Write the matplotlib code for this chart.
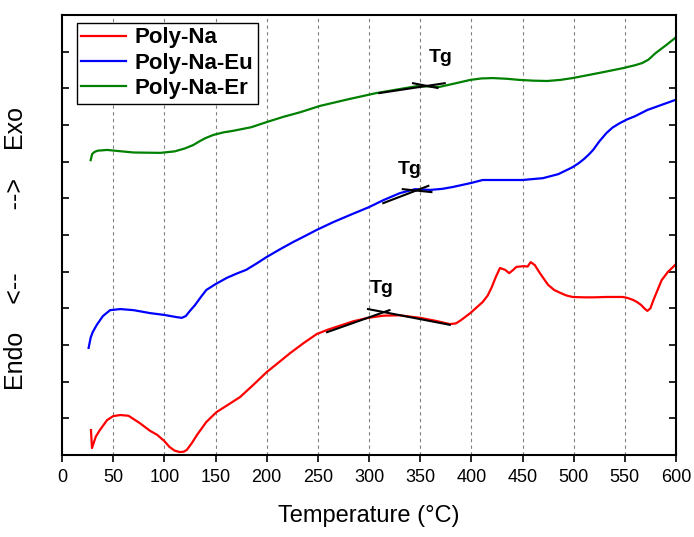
import matplotlib
matplotlib.use("Agg")
import matplotlib.pyplot as plt

plt.rcParams["font.family"] = ["Liberation Sans", "DejaVu Sans"]

# --- DSC curves (offset, arbitrary units) ---
na_x = [28.3, 29.3, 33, 37, 44, 50, 57, 65, 76, 86, 93, 100, 105, 110, 115, 119, 122, 127,
        132, 141, 151, 160, 174, 188, 200, 212, 223, 236, 249, 260, 272, 285, 299, 314,
        330, 350, 365, 379, 385, 390, 399, 411, 416, 420, 424, 428, 433, 437, 441, 444,
        451, 455, 458, 462, 467, 471, 475, 481, 487, 493, 499, 510, 520, 532, 540, 548,
        553, 558, 562, 566, 569, 572, 575, 578, 582, 586, 592, 599]
na_y = [0.68, 0.19, 0.50, 0.68, 0.95, 1.06, 1.09, 1.07, 0.87, 0.66, 0.55, 0.38, 0.22,
        0.12, 0.08, 0.09, 0.14, 0.33, 0.55, 0.90, 1.17, 1.33, 1.58, 1.94, 2.26, 2.53,
        2.78, 3.05, 3.30, 3.42, 3.53, 3.65, 3.74, 3.80, 3.81, 3.74, 3.66, 3.57, 3.59,
        3.68, 3.87, 4.17, 4.35, 4.58, 4.86, 5.10, 5.05, 4.96, 5.05, 5.13, 5.15, 5.14,
        5.26, 5.18, 4.96, 4.80, 4.64, 4.50, 4.42, 4.35, 4.31, 4.30, 4.30, 4.31, 4.31,
        4.31, 4.28, 4.23, 4.17, 4.09, 4.00, 3.93, 4.00, 4.23, 4.50, 4.77, 4.99, 5.18]

eu_x = [26, 28, 30, 34, 40, 47, 57, 70, 86, 100, 112, 117, 121, 125, 130, 136, 141, 150,
        161, 170, 180, 190, 200, 213, 226, 238, 249, 265, 281, 300, 314, 330, 345, 360,
        372, 382, 400, 411, 430, 450, 470, 485, 499, 505, 510, 515, 519, 525, 532, 538,
        545, 552, 560, 572, 585, 599]
eu_y = [2.92, 3.20, 3.35, 3.55, 3.79, 3.95, 3.98, 3.95, 3.87, 3.82, 3.76, 3.74, 3.79,
        3.93, 4.09, 4.32, 4.50, 4.66, 4.83, 4.94, 5.05, 5.22, 5.40, 5.61, 5.81, 5.98,
        6.14, 6.35, 6.54, 6.76, 6.95, 7.14, 7.25, 7.23, 7.26, 7.31, 7.42, 7.50, 7.50,
        7.50, 7.55, 7.66, 7.85, 7.96, 8.07, 8.20, 8.32, 8.55, 8.78, 8.93, 9.05, 9.15,
        9.24, 9.41, 9.54, 9.68]

er_x = [28, 29.5, 32, 35, 44, 55, 70, 96, 110, 115, 120, 128, 134, 140, 148, 158, 167,
        185, 200, 216, 233, 252, 281, 307, 330, 347, 360, 369, 385, 399, 410, 421, 435,
        447, 460, 474, 487, 499, 525, 548, 560, 567, 573, 580, 590, 599]
er_y = [8.04, 8.21, 8.27, 8.30, 8.32, 8.29, 8.25, 8.24, 8.28, 8.32, 8.36, 8.45, 8.55,
        8.64, 8.73, 8.80, 8.84, 8.94, 9.08, 9.22, 9.35, 9.52, 9.71, 9.87, 9.98, 10.06,
        10.05, 10.04, 10.14, 10.23, 10.27, 10.28, 10.26, 10.23, 10.21, 10.20, 10.23,
        10.28, 10.42, 10.55, 10.63, 10.69, 10.78, 10.96, 11.17, 11.37]

# tangent lines used for Tg (two per curve) and label positions
tg_lines = [
    ([259, 320], [3.35, 3.95]), ([299, 379], [3.98, 3.55]),
    ([314, 358], [6.87, 7.34]), ([333, 361], [7.25, 7.17]),
    ([310, 374], [9.87, 10.14]), ([343, 367], [10.14, 10.01]),
]
tg_labels = [(312, 4.55), (340, 7.80), (370, 10.85)]

labels = ["Poly-Na", "Poly-Na-Eu", "Poly-Na-Er"]
colors = ["#ff0000", "#0000ff", "#008000"]

fig = plt.figure(figsize=(6.94, 5.37), dpi=100)
ax = fig.add_axes([62 / 694, 82 / 537, 614 / 694, 440 / 537])

for xs, ys, lab, c in zip([na_x, eu_x, er_x], [na_y, eu_y, er_y], labels, colors):
    ax.plot(xs, ys, color=c, lw=1.6, label=lab, solid_joinstyle="round")

for xs, ys in tg_lines:
    ax.plot(xs, ys, color="black", lw=1.5)
for tx, ty in tg_labels:
    ax.text(tx, ty, "Tg", ha="center", va="center", fontsize=14, fontweight="bold")

ax.set_xlim(0, 600)
ax.set_ylim(0, 12)
ax.set_xticks(range(0, 601, 50))
ax.set_yticks(range(0, 13))
ax.set_yticklabels([])
for xg in range(50, 600, 50):
    ax.axvline(xg, color="gray", lw=0.8, ls=(0, (3, 3)), zorder=0)

ax.tick_params(axis="x", direction="out", length=5, width=1.2, labelsize=13, pad=5)
ax.tick_params(axis="y", direction="in", length=5, width=1.2, left=True, right=True)
for sp in ax.spines.values():
    sp.set_linewidth(1.5)

ax.set_xlabel("Temperature (\u00b0C)", fontsize=17, labelpad=14)
ax.set_ylabel("Endo    <--         -->    Exo", fontsize=18)
ax.yaxis.set_label_coords(-0.055, 0.47)

leg = ax.legend(loc="upper left", bbox_to_anchor=(0.024, 0.982), borderaxespad=0,
                fancybox=False, edgecolor="black", framealpha=1, handlelength=2.0,
                handletextpad=0.4, borderpad=0.2, labelspacing=0.2,
                prop={"weight": "bold", "size": 16})
leg.get_frame().set_linewidth(1.0)

fig.savefig("out.png", dpi=100)
